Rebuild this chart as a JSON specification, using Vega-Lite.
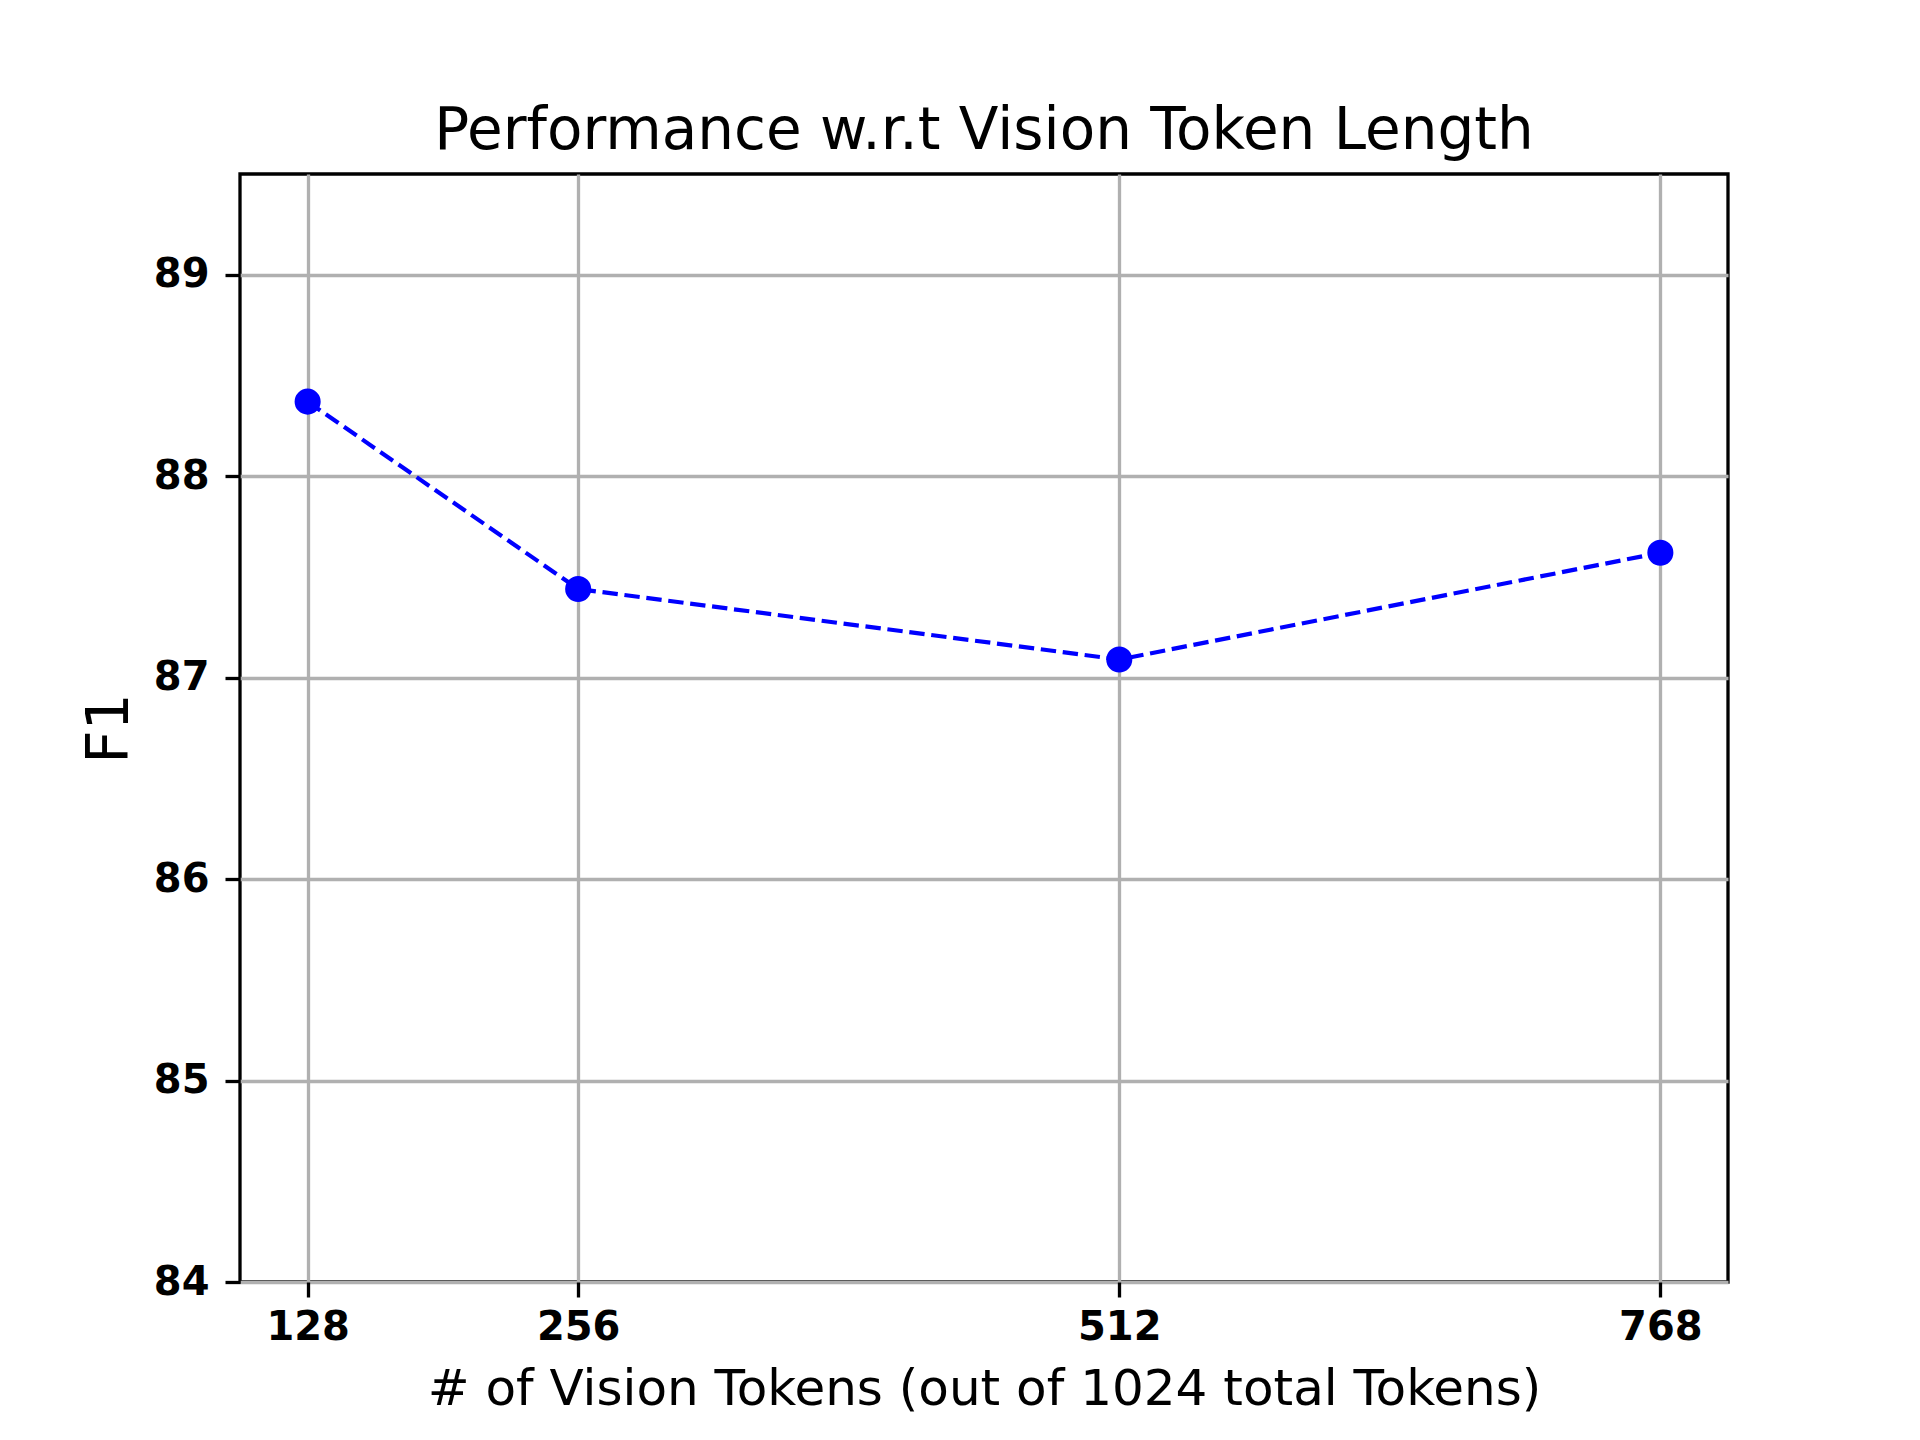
{
  "$schema": "https://vega.github.io/schema/vega-lite/v6.json",
  "width": 1488,
  "height": 1108,
  "autosize": {"type": "none"},
  "padding": {"left": 240, "top": 174, "right": 192, "bottom": 158},
  "background": "white",
  "title": {
    "text": "Performance w.r.t Vision Token Length",
    "font": "DejaVu Sans",
    "fontSize": 58,
    "fontWeight": "normal",
    "color": "black",
    "baseline": "alphabetic",
    "offset": -33,
    "frame": "group",
    "anchor": "middle"
  },
  "data": {
    "values": [
      {"tokens": 128, "f1": 88.37},
      {"tokens": 256, "f1": 87.44},
      {"tokens": 512, "f1": 87.09},
      {"tokens": 768, "f1": 87.62}
    ]
  },
  "config": {
    "view": {"stroke": "black", "strokeWidth": 3.3},
    "axis": {
      "domain": false,
      "grid": true,
      "gridColor": "#b0b0b0",
      "gridWidth": 3.3,
      "tickColor": "black",
      "tickWidth": 3.3,
      "tickSize": 15,
      "labelFont": "DejaVu Sans",
      "labelFontWeight": "bold",
      "labelFontSize": 40,
      "labelColor": "black",
      "titleFont": "DejaVu Sans",
      "titleFontWeight": "normal",
      "titleColor": "black"
    }
  },
  "encoding": {
    "x": {
      "field": "tokens",
      "type": "quantitative",
      "scale": {"domain": [96, 800], "nice": false, "zero": false},
      "axis": {
        "values": [128, 256, 512, 768],
        "title": "# of Vision Tokens (out of 1024 total Tokens)",
        "titleFontSize": 50,
        "labelPadding": 10,
        "titlePadding": 17
      }
    },
    "y": {
      "field": "f1",
      "type": "quantitative",
      "scale": {"domain": [84, 89.5], "nice": false, "zero": false},
      "axis": {
        "values": [84, 85, 86, 87, 88, 89],
        "title": "F1",
        "titleFontSize": 58,
        "labelPadding": 16,
        "titlePadding": 14
      }
    }
  },
  "layer": [
    {
      "mark": {"type": "line", "color": "#0000ff", "strokeWidth": 4.2, "strokeDash": [15.4, 6.7]}
    },
    {
      "mark": {"type": "point", "filled": true, "color": "#0000ff", "opacity": 1, "size": 680, "shape": "circle"}
    }
  ]
}
